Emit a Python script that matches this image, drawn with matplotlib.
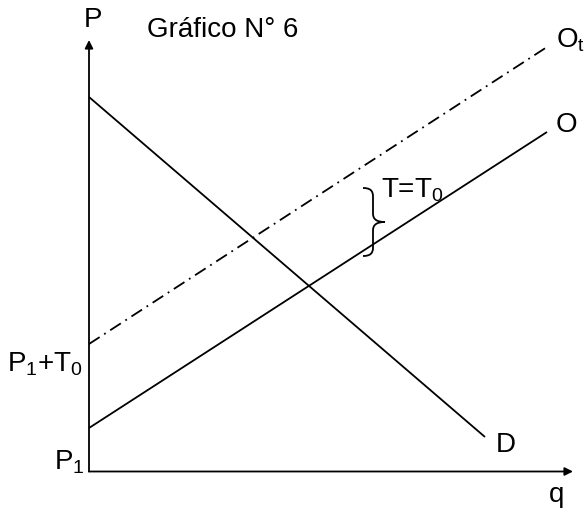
import matplotlib
matplotlib.use("Agg")
import matplotlib.pyplot as plt
from matplotlib.path import Path
from matplotlib.patches import PathPatch

plt.rcParams['font.family'] = ['Liberation Sans', 'DejaVu Sans']
plt.rcParams['mathtext.fontset'] = 'custom'
plt.rcParams['mathtext.rm'] = 'Liberation Sans'
plt.rcParams['mathtext.it'] = 'Liberation Sans'

# Data (economic units; origin at axes intersection)
demand_q = [0.0, 39.6]
demand_p = [37.45, 3.45]
supply_q = [0.0, 45.8]
supply_p = [4.35, 33.95]
supply_tax_q = [0.0, 45.8]
supply_tax_p = [12.75, 42.45]
x_axis_end = 48.4
y_axis_end = 43.15

fig = plt.figure(figsize=(5.86, 5.09), dpi=100)
ax = fig.add_axes([0, 0, 1, 1])
ax.set_xlim(-8.9, 49.7)
ax.set_ylim(-3.75, 47.15)
ax.axis('off')

lw = 1.3
ax.plot(demand_q, demand_p, color='black', lw=lw, solid_capstyle='butt')
ax.plot(supply_q, supply_p, color='black', lw=lw, solid_capstyle='butt')
ax.plot(supply_tax_q, supply_tax_p, color='black', lw=lw,
        dashes=(7, 3, 1, 3), dash_capstyle='butt')

# axes with arrows
ax.annotate('', xy=(0, y_axis_end), xytext=(0, 0),
            arrowprops=dict(arrowstyle='-|>', color='black', lw=lw,
                            mutation_scale=12, shrinkA=0, shrinkB=0))
ax.annotate('', xy=(x_axis_end, 0), xytext=(0, 0),
            arrowprops=dict(arrowstyle='-|>', color='black', lw=lw,
                            mutation_scale=12, shrinkA=0, shrinkB=0))

# brace
verts = [(27.4, 28.35), (28.1, 28.35), (28.4, 28.1), (28.4, 27.5),
         (28.4, 25.8),
         (28.4, 25.2), (28.8, 24.95), (29.6, 24.95),
         (28.8, 24.95), (28.4, 24.7), (28.4, 24.1),
         (28.4, 22.4),
         (28.4, 21.8), (28.1, 21.55), (27.4, 21.55)]
codes = [Path.MOVETO, Path.CURVE4, Path.CURVE4, Path.CURVE4,
         Path.LINETO,
         Path.CURVE4, Path.CURVE4, Path.CURVE4,
         Path.CURVE4, Path.CURVE4, Path.CURVE4,
         Path.LINETO,
         Path.CURVE4, Path.CURVE4, Path.CURVE4]
ax.add_patch(PathPatch(Path(verts, codes), fill=False, lw=lw, color='black'))

fs = 20
ax.text(-0.55, 44.48, 'P', fontsize=fs, va='baseline', ha='left')
ax.text(5.8, 43.48, 'Gráfico N° 6', fontsize=fs, va='baseline', ha='left')
ax.text(46.7, 42.45, r'O$_\mathrm{t}$', fontsize=fs, va='baseline', ha='left')
ax.text(46.7, 33.95, 'O', fontsize=fs, va='baseline', ha='left')
ax.text(40.7, 1.95, 'D', fontsize=fs, va='baseline', ha='left')
ax.text(46.0, -3.1, 'q', fontsize=fs, va='baseline', ha='left')
ax.text(-8.2, 10.05, r'P$_1$+T$_0$', fontsize=fs, va='baseline', ha='left')
ax.text(-3.5, 0.15, r'P$_1$', fontsize=fs, va='baseline', ha='left')
ax.text(29.2, 27.35, r'T=T$_0$', fontsize=fs, va='baseline', ha='left')

fig.savefig('out.png', dpi=100)
